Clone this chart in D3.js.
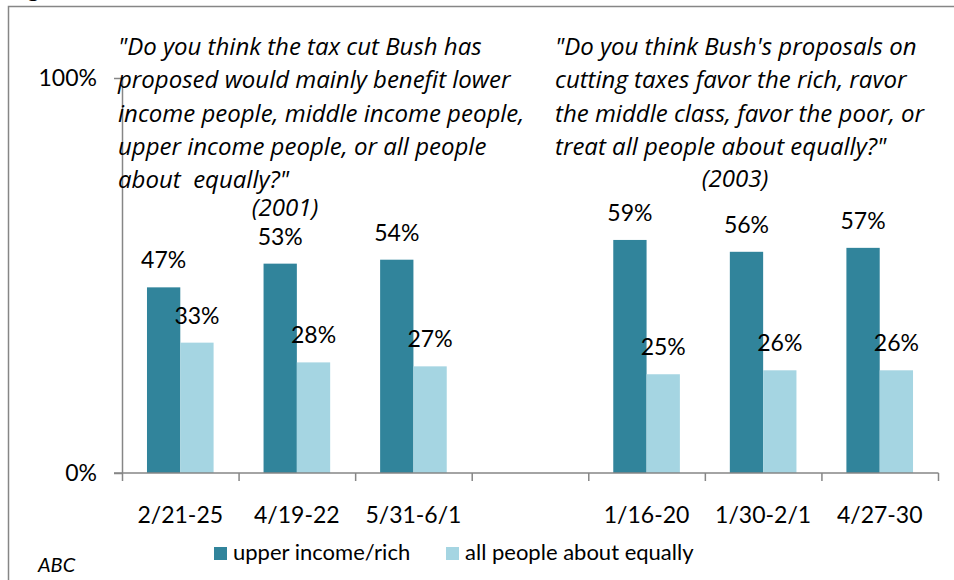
<!DOCTYPE html>
<html>
<head>
<meta charset="utf-8">
<script src="https://cdn.jsdelivr.net/npm/d3@7"></script>
<style>
  html, body { margin: 0; padding: 0; background: #fff; }
  svg { display: block; }
  text { font-family: Lato, "Open Sans", sans-serif; fill: #000; }
  .question text { font-family: "Open Sans", sans-serif; font-style: italic; font-size: 24px; white-space: pre; }
</style>
</head>
<body>
<script>
// Poll dates (a blank slot separates the 2001 and 2003 question groups)
const categories = ["2/21-25", "4/19-22", "5/31-6/1", "", "1/16-20", "1/30-2/1", "4/27-30"];
const seriesNames = ["upper income/rich", "all people about equally"];
const upperIncome = [47, 53, 54, null, 59, 56, 57];
const allEqually = [33, 28, 27, null, 25, 26, 26];
const yTicks = [0, 100];

const question2001 = [
  "\"Do you think the tax cut Bush has",
  "proposed would mainly benefit lower",
  "income people, middle income people,",
  "upper income people, or all people",
  "about  equally?\""
];
const year2001 = "(2001)";
const question2003 = [
  "\"Do you think Bush's proposals on",
  "cutting taxes favor the rich, ravor",
  "the middle class, favor the poor, or",
  "treat all people about equally?\""
];
const year2003 = "(2003)";
const source = "ABC";

const W = 954, H = 580;
const colors = ["#31849b", "#a5d5e2"];
const axisGrey = "#868686";

const svg = d3.select("body").append("svg").attr("width", W).attr("height", H);

// Descender of the title line that sits above the frame
svg.append("text").attr("x", 27).attr("y", -3)
  .style("font-size", "24px").style("font-weight", "bold").text("g");

// Chart frame
svg.append("path")
  .attr("d", `M8.5,${H + 2} L8.5,6.5 L${W + 2},6.5`)
  .attr("fill", "none").attr("stroke", axisGrey).attr("stroke-width", 1.5);

const x = d3.scaleBand().domain(categories).range([122, 938]).padding(0);
const xs = d3.scaleBand().domain(seriesNames).range([0, x.bandwidth()]).paddingInner(0).paddingOuter(0.75);
const y = d3.scaleLinear().domain([0, 100]).range([473, 78]);

const rows = categories.map((c, i) => ({ c, vals: [upperIncome[i], allEqually[i]] }));

// Bars
const groups = svg.append("g").selectAll("g").data(rows.filter(r => r.vals[0] != null))
  .join("g").attr("transform", d => `translate(${x(d.c)},0)`);

groups.selectAll("rect").data(d => d.vals.map((v, k) => ({ v, k })))
  .join("rect")
  .attr("x", d => xs(seriesNames[d.k]))
  .attr("width", xs.bandwidth())
  .attr("y", d => y(d.v))
  .attr("height", d => y(0) - y(d.v))
  .attr("fill", d => colors[d.k]);

// Value labels
groups.selectAll("text").data(d => d.vals.map((v, k) => ({ v, k })))
  .join("text")
  .attr("x", d => xs(seriesNames[d.k]) + xs.bandwidth() / 2)
  .attr("y", d => y(d.v) - 19)
  .attr("text-anchor", "middle")
  .style("font-size", "23px")
  .text(d => d.v + "%");

// Y axis
const yAxis = svg.append("g").attr("transform", "translate(122,0)")
  .call(d3.axisLeft(y).tickValues(yTicks).tickSize(8).tickPadding(17).tickFormat(d => d + "%"));
yAxis.select(".domain").attr("d", `M0.5,${y(100)}V${y(0)}`).attr("stroke", axisGrey).attr("stroke-width", 1.5);
yAxis.selectAll(".tick line").attr("stroke", axisGrey).attr("stroke-width", 1.5);
yAxis.selectAll(".tick text").style("font-size", "23px").style("font-family", "Lato, sans-serif").attr("fill", "#000");

// X axis: baseline, boundary ticks and date labels
const xAxis = svg.append("g");
xAxis.append("line")
  .attr("x1", 114).attr("x2", x.range()[1] + 0.5)
  .attr("y1", y(0)).attr("y2", y(0))
  .attr("stroke", axisGrey).attr("stroke-width", 1.5);
const bounds = categories.map(c => x(c)).concat([x.range()[1]]);
xAxis.selectAll("line.b").data(bounds).join("line").attr("class", "b")
  .attr("x1", d => d + 0.5).attr("x2", d => d + 0.5)
  .attr("y1", y(0)).attr("y2", y(0) + 8)
  .attr("stroke", axisGrey).attr("stroke-width", 1.5);
xAxis.selectAll("text").data(categories.filter(c => c !== "")).join("text")
  .attr("x", d => x(d) + x.bandwidth() / 2)
  .attr("y", 523)
  .attr("text-anchor", "middle")
  .style("font-size", "23px")
  .text(d => d);

// Question annotations
function block(lines, x0, yearText, yearX, yearY) {
  const g = svg.append("g").attr("class", "question");
  g.selectAll("text").data(lines).join("text")
    .attr("x", x0).attr("y", (d, i) => 55 + i * 33.3).text(d => d);
  g.append("text").attr("x", yearX).attr("y", yearY).attr("text-anchor", "middle").text(yearText);
}
block(question2001, 118, year2001, 285, 216);
block(question2003, 555, year2003, 735, 187);

// Legend
const legend = svg.append("g");
const legendItems = [{ x: 214, name: seriesNames[0] }, { x: 446, name: seriesNames[1] }];
legend.selectAll("rect").data(legendItems).join("rect")
  .attr("x", d => d.x).attr("y", 547).attr("width", 13).attr("height", 13)
  .attr("fill", (d, i) => colors[i]);
legend.selectAll("text").data(legendItems).join("text")
  .attr("x", d => d.x + 19).attr("y", 560)
  .style("font-size", "22px")
  .text(d => d.name);

// Source
svg.append("text").attr("x", 38).attr("y", 572)
  .style("font-style", "italic").style("font-size", "20px").text(source);
</script>
</body>
</html>
